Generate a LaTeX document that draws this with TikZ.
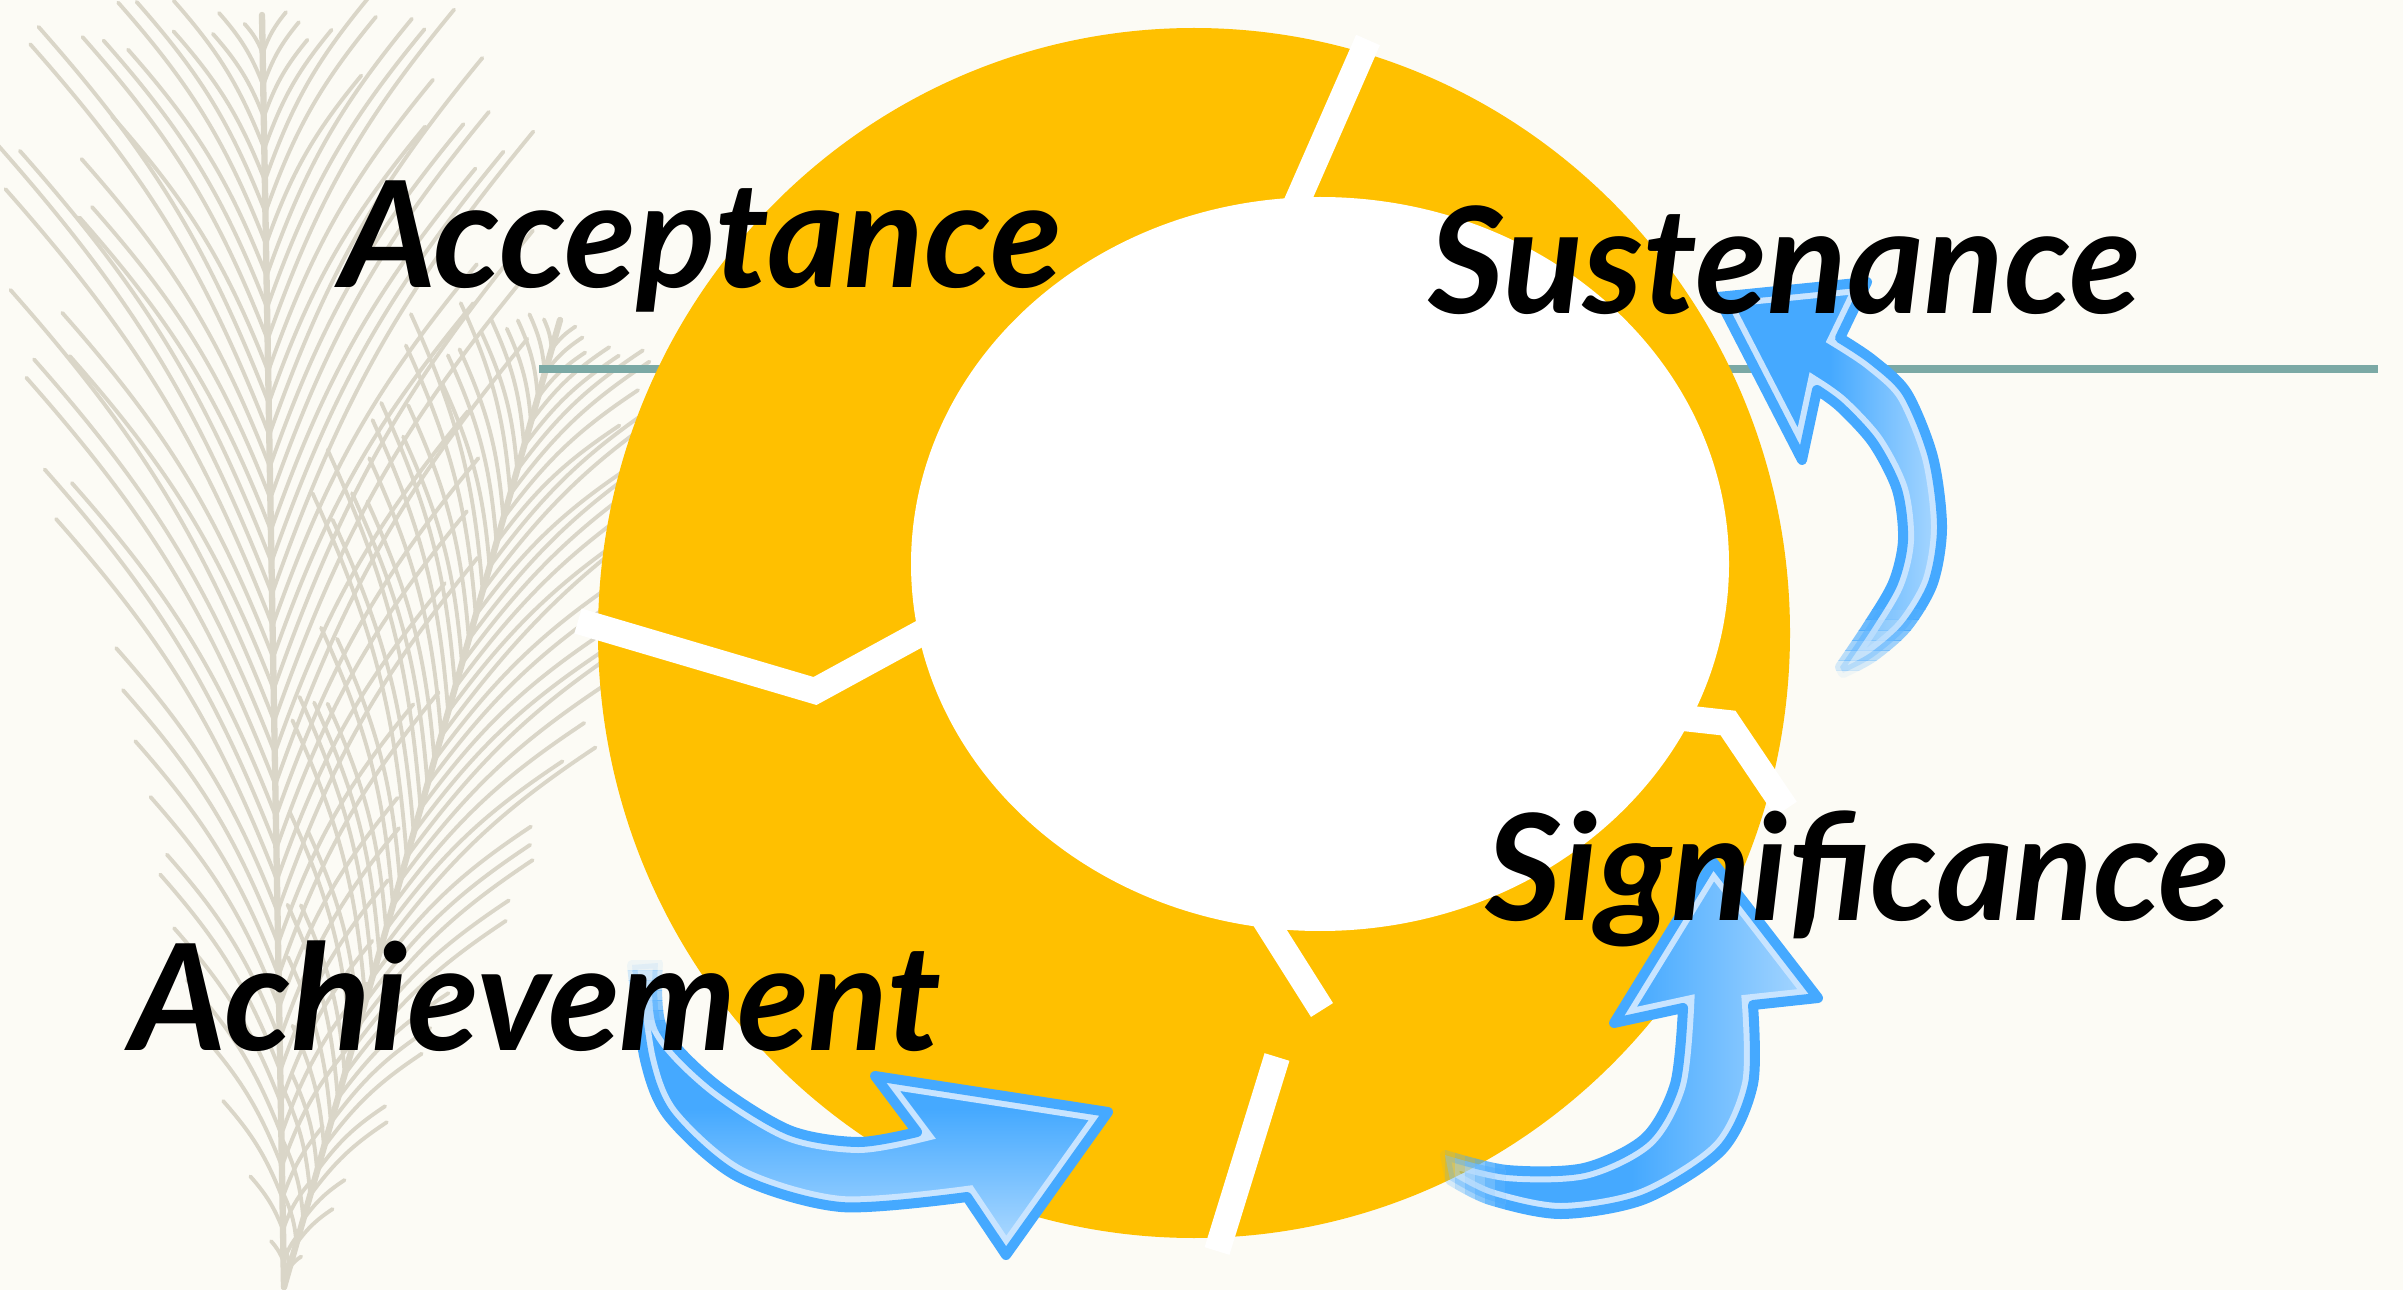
\documentclass[tikz,border=0pt]{standalone}
\usepackage{fontspec}
\setmainfont{Lato}
\definecolor{paper}{HTML}{FCFBF5}
\definecolor{ringc}{HTML}{FFC000}
\definecolor{rulec}{HTML}{7BA9A5}
\definecolor{featherc}{HTML}{DAD6C8}
\definecolor{arrowc}{HTML}{45A9FF}
\definecolor{arrowlight}{HTML}{C8E4FF}

% feather: bottom x,y ; top x,y ; half width
\newcommand{\drawfeather}[5]{%
  \pgfmathsetmacro{\fl}{veclen((#3-#1)/100,(#4-#2)/100)*100}%
  \pgfmathsetmacro{\fux}{(#3-#1)/\fl}%
  \pgfmathsetmacro{\fuy}{(#4-#2)/\fl}%
  \draw[feather, line width=1.8pt] (#1,#2) -- (#3,#4);
  \foreach \t in {0.02,0.045,...,0.98}{%
    \pgfmathsetmacro{\bw}{#5*sin(180*\t)*(0.75+0.4*rnd)}%
    \pgfmathsetmacro{\bv}{#5*sin(180*\t)*(0.75+0.4*rnd)}%
    \pgfmathsetmacro{\bx}{#1+(#3-#1)*\t}%
    \pgfmathsetmacro{\by}{#2+(#4-#2)*\t}%
    \draw[feather] (\bx,\by) to[bend left=10] ++({-\fuy*\bw+\fux*\bw*1.7},{\fux*\bw+\fuy*\bw*1.7});
    \draw[feather] (\bx,\by) to[bend right=10] ++({\fuy*\bv+\fux*\bv*1.7},{-\fux*\bv+\fuy*\bv*1.7});
  }}

% block arrow with a light inner rim: path, opacity, shading
\newcommand{\arrowlayers}[3]{%
  \shade[#3, opacity=#2] #1;
  \begin{scope}
    \clip #1;
    \draw[arrowlight, line width=2.2mm, opacity=#2] #1;
  \end{scope}
  \draw[arrowc, line width=1mm, line join=round, opacity=#2] #1;}

\def\achpath{(632,965) -- plot[smooth] coordinates {(632,965) (645,1060) (669,1117) (738,1177) (841,1207) (967,1197)} -- (1006,1255) -- (1108,1112) -- (875,1076) -- (917,1132) -- plot[smooth] coordinates {(917,1132) (858,1142) (789,1130) (714,1083) (662,1027) (658,963)} -- cycle}
\def\sigpath{(1445,1155) -- plot[smooth] coordinates {(1445,1155) (1507,1170) (1584,1168) (1645,1138) (1675,1084) (1683,1008)} -- (1614,1023) -- (1713,862) -- (1818,998) -- (1753,1005) -- plot[smooth] coordinates {(1753,1005) (1753,1084) (1722,1150) (1645,1199) (1561,1214) (1490,1200) (1450,1180)} -- cycle}
\def\suspath{(1840,338) -- plot[smooth] coordinates {(1840,338) (1873,360) (1907,393) (1933,457) (1942,527) (1933,583) (1907,627) (1873,657) (1843,673)} -- plot[smooth] coordinates {(1840,667) (1867,627) (1893,583) (1903,540) (1897,490) (1873,443) (1840,407) (1817,390)} -- (1802,460) -- (1718,297) -- (1867,282) -- cycle}

\begin{document}
\begin{tikzpicture}[x=0.1mm,y=-0.1mm,
  feather/.style={draw=featherc, line width=1.1pt, line cap=round},
  gap/.style={draw=white, line width=2.6mm},
  achshade/.style={top color=arrowc, bottom color=arrowc!40!white, middle color=arrowc},
  sideshade/.style={left color=arrowc, right color=arrowc!45!white, middle color=arrowc},
  word/.style={font=\fontsize{42}{50}\selectfont\bfseries\itshape, anchor=base, inner sep=0pt}]

\fill[paper] (0,0) rectangle (2403,1290);
\useasboundingbox (0,0) rectangle (2403,1290);

% feathers
\pgfmathsetseed{7}
\drawfeather{284}{1287}{262}{15}{240}
\drawfeather{284}{1287}{560}{320}{170}

% rule
\draw[rulec, line width=0.8mm] (539,369) -- (2378,369);

% ring
\fill[ringc] (1194,633) ellipse [x radius=59.6mm, y radius=60.5mm];
\fill[white] (1320,564) ellipse [x radius=40.9mm, y radius=36.7mm];

% gaps
\draw[gap] (1290,218) -- (1368,40);
\draw[gap] (578,621) -- (815,691) -- (925,631);
\draw[gap] (1665,716) -- (1728,723) -- (1786,809);
\draw[gap] (1262,915) -- (1322,1010);
\draw[gap] (1277,1057) -- (1217,1251);

% arrows, tails faded in strips
\begin{scope}
  \clip (0,1030) rectangle (2403,1290);
  \arrowlayers{\achpath}{1}{achshade}
\end{scope}
\foreach \k in {0,...,6}{
  \pgfmathsetmacro{\op}{(\k+0.5)/7}
  \begin{scope}
    \clip (0,{960+10*\k}) rectangle (2403,{970+10*\k});
    \arrowlayers{\achpath}{\op}{achshade}
  \end{scope}}

\begin{scope}
  \clip (1505,0) rectangle (2403,1290);
  \arrowlayers{\sigpath}{1}{sideshade}
\end{scope}
\foreach \k in {0,...,6}{
  \pgfmathsetmacro{\op}{(\k+0.5)/7}
  \begin{scope}
    \clip ({1435+10*\k},0) rectangle ({1445+10*\k},1290);
    \arrowlayers{\sigpath}{\op}{sideshade}
  \end{scope}}

\begin{scope}
  \clip (0,0) rectangle (2403,610);
  \arrowlayers{\suspath}{1}{sideshade}
\end{scope}
\foreach \k in {0,...,6}{
  \pgfmathsetmacro{\op}{(\k+0.5)/7}
  \begin{scope}
    \clip (0,{680-10*\k}) rectangle (2403,{670-10*\k});
    \arrowlayers{\suspath}{\op}{sideshade}
  \end{scope}}

% labels
\node[word] (acc) at (701,288) {Acceptance};
\node[word] (sus) at (1785,314) {Sustenance};
\node[word] (sig) at (1858,920) {Significance};
\node[word] (ach) at (536,1050) {Achievement};

\end{tikzpicture}
\end{document}
